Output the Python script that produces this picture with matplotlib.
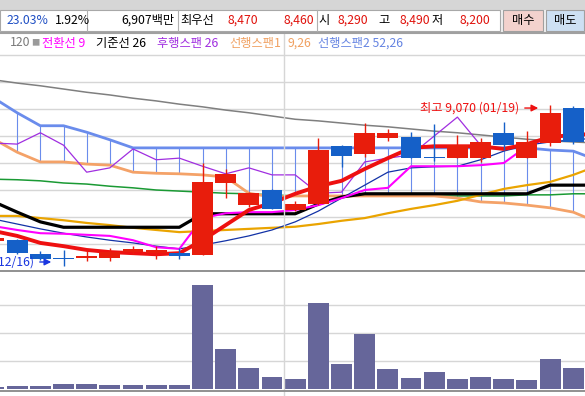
import matplotlib
matplotlib.use('Agg')
import matplotlib.pyplot as plt
from matplotlib.patches import Rectangle
from matplotlib.lines import Line2D

plt.rcParams['font.family'] = ['Noto Sans CJK KR', 'DejaVu Sans']

# ---------------- data ----------------
idx = list(range(26))            # visible candles (index 0 is partly cut off)
line_idx = list(range(27))       # indicator lines extend one step past the right edge
lag_idx = list(range(22))

opens  = [6560, 6570, 6310, 6230, 6240, 6240, 6350, 6330, 6330, 6300, 7630, 7220, 7500,
          7130, 7240, 8320, 8170, 8460, 8480, 8100, 8090, 8090, 8560, 8090, 8370, 9020]
highs  = [6640, 6590, 6370, 6390, 6370, 6430, 6460, 6460, 6430, 8000, 7890, 7460, 7510,
          7300, 8460, 8330, 8740, 8630, 8570, 8720, 8520, 8460, 8760, 8590, 9070, 9060]
lows   = [6530, 6320, 6200, 6090, 6180, 6190, 6310, 6220, 6220, 6290, 7350, 7190, 7140,
          7120, 7220, 7920, 8110, 8400, 8090, 8040, 8090, 8020, 8240, 8090, 8310, 8350]
closes = [6610, 6330, 6220, 6220, 6280, 6350, 6410, 6390, 6280, 7650, 7800, 7440, 7150,
          7240, 8240, 8130, 8560, 8560, 8090, 8090, 8330, 8390, 8330, 8390, 8930, 8390]
volume = [8, 11, 11, 18, 18, 14, 14, 14, 14, 371, 143, 75, 43, 36, 307, 89, 196, 71,
          39, 61, 36, 43, 36, 32, 107, 75]

ma_gray  = [9540, 9480, 9430, 9370, 9310, 9260, 9200, 9150, 9090, 9040, 8980, 8930, 8870, 8810,
            8780, 8740, 8700, 8670, 8630, 8590, 8560, 8520, 8480, 8440, 8410, 8390, 8370]
ma_green = [7700, 7690, 7670, 7630, 7610, 7570, 7540, 7500, 7480, 7460, 7440, 7430, 7410, 7390,
            7390, 7390, 7390, 7390, 7390, 7390, 7390, 7390, 7390, 7410, 7410, 7430, 7430]
ma_gold  = [7020, 7020, 6980, 6940, 6890, 6850, 6800, 6760, 6720, 6740, 6760, 6780, 6800, 6820,
            6870, 6930, 6980, 7070, 7150, 7220, 7300, 7410, 7520, 7590, 7650, 7780, 7940]
ma_red   = [6740, 6650, 6520, 6460, 6390, 6350, 6330, 6310, 6330, 6570, 6850, 7130, 7260, 7430,
            7570, 7670, 7890, 8090, 8280, 8310, 8310, 8310, 8260, 8350, 8480, 8520, 8540]
ma_navy  = [6960, 6870, 6780, 6700, 6630, 6570, 6520, 6460, 6410, 6480, 6560, 6650, 6760, 6910,
            7110, 7350, 7590, 7830, 7910, 7930, 7940, 8060, 8220, 8330, 8390, 8430, 8460]
tenkan   = [6830, 6760, 6700, 6690, 6670, 6650, 6570, 6440, 6410, 6980, 7070, 7090, 7090, 7130,
            7220, 7350, 7500, 7540, 7940, 7940, 7940, 7960, 8000, 8310, 8480, 8520, 8520]
kijun    = [7280, 7090, 6910, 6810, 6810, 6810, 6810, 6810, 6810, 7060, 7060, 7060, 7060, 7060,
            7240, 7370, 7430, 7430, 7430, 7430, 7430, 7430, 7430, 7430, 7590, 7590, 7590]
span1    = [8440, 8200, 8020, 8020, 7980, 7960, 7830, 7810, 7800, 7780, 7740, 7440, 7370, 7390,
            7390, 7390, 7390, 7390, 7390, 7390, 7350, 7280, 7260, 7220, 7170, 7090, 6910]
span2    = [9200, 8930, 8690, 8690, 8570, 8430, 8280, 8280, 8280, 8280, 8280, 8280, 8280, 8280,
            8280, 8280, 8280, 8280, 8280, 8280, 8280, 8280, 8280, 8280, 8240, 8220, 8060]
lagging  = [8370, 8350, 8560, 8330, 7830, 7910, 8260, 8060, 8090, 7940, 7800, 7910, 7780, 7780,
            7440, 7460, 8020, 8090, 8150, 8500, 8850, 8330]

price_grid = [6500, 7000, 7500, 8000, 8500, 9000, 9500, 10000]
vol_grid = [100, 200, 300]

header_items = [("23.03%", 7, '#1f4fc4', 'left'), ("1.92%", 55, 'black', 'left'),
                ("6,907백만", 174, 'black', 'right'), ("최우선", 180, 'black', 'left'),
                ("8,470", 228, '#e0120c', 'left'), ("8,460", 283, '#e0120c', 'left'),
                ("시", 318, 'black', 'left'), ("8,290", 338, '#e0120c', 'left'),
                ("고", 378, 'black', 'left'), ("8,490", 400, '#e0120c', 'left'),
                ("저", 432, 'black', 'left'), ("8,200", 460, '#e0120c', 'left')]
legend_items = [("120", 10, '#7a7a7a'), ("■", 31, '#9a9a9a'), ("전환선 9", 42, '#ff00ff'),
                ("기준선 26", 96, 'black'), ("후행스팬 26", 157, '#a02ee0'),
                ("선행스팬1", 229, '#f0a060'), ("9,26", 287, '#f0a060'),
                ("선행스팬2 52,26", 318, '#6584e2')]

# ---------------- layout helpers ----------------
W, H = 585, 396
def fx(x): return x / W
def fy(y): return 1 - y / H

fig = plt.figure(figsize=(5.85, 3.96), dpi=100)
fig.patch.set_facecolor('white')

# header background
fig.patches.append(Rectangle((0, fy(10)), 1, 10 / H, transform=fig.transFigure,
                             facecolor='#d6d6d6', edgecolor='none'))
fig.patches.append(Rectangle((0, fy(33)), 1, 23 / H, transform=fig.transFigure,
                             facecolor='#f0f0f0', edgecolor='none'))
fig.patches.append(Rectangle((fx(0), fy(31)), fx(500), 21 / H, transform=fig.transFigure,
                             facecolor='white', edgecolor='#a8a8a8', lw=0.8))
for xd in [87, 178, 317]:
    fig.lines.append(Line2D([fx(xd), fx(xd)], [fy(10), fy(31)], transform=fig.transFigure,
                            color='#b0b0b0', lw=0.8))
fig.patches.append(Rectangle((fx(503), fy(31)), 40 / W, 21 / H, transform=fig.transFigure,
                             facecolor='#f3d2cd', edgecolor='#a0a0a0', lw=0.8))
fig.patches.append(Rectangle((fx(546), fy(31)), 38 / W, 21 / H, transform=fig.transFigure,
                             facecolor='#cde0f3', edgecolor='#a0a0a0', lw=0.8))
fig.lines.append(Line2D([0, 1], [fy(33), fy(33)], transform=fig.transFigure,
                        color='#a0a0a0', lw=1.5))

for txt, x, col, ha in header_items:
    fig.text(fx(x), fy(20.5), txt, color=col, ha=ha, va='center', fontsize=8.8)
fig.text(fx(523), fy(20.5), "매수", ha='center', va='center', fontsize=8.8, color='black')
fig.text(fx(565), fy(20.5), "매도", ha='center', va='center', fontsize=8.8, color='black')

# ---------------- price panel ----------------
xl = (6 / 23.17, 591 / 23.17)
ax = fig.add_axes([0, fy(271), 1, (271 - 36) / H])
ax.set_xlim(*xl)
ax.set_ylim(6000, 10352)
ax.axis('off')
for g in price_grid:
    ax.axhline(g, color='#d6d6d6', lw=1.0, zorder=0)

# cloud hatching
ax.vlines(line_idx, span1, span2, color='#6a8cec', lw=0.8, zorder=1)

ax.plot(line_idx, ma_gray, color='#7f7f7f', lw=1.1, zorder=2)
ax.plot(line_idx, ma_green, color='#1a9a34', lw=1.1, zorder=2)
ax.plot(line_idx, span1, color='#f4a268', lw=2.0, zorder=2)
ax.plot(line_idx, span2, color='#6a8cec', lw=2.0, zorder=2)
ax.plot(line_idx, ma_gold, color='#eaa400', lw=1.6, zorder=2)
ax.plot(line_idx, ma_navy, color='#1232a6', lw=0.9, zorder=2)
ax.plot(lag_idx, lagging, color='#a02ee0', lw=0.9, zorder=2)
ax.plot(line_idx, kijun, color='black', lw=2.3, zorder=3)
ax.plot(line_idx, tenkan, color='#ff00ff', lw=1.5, zorder=3)
ax.plot(line_idx, ma_red, color='#ee1010', lw=2.8, zorder=3)

# candles
red, blue = '#e81d0c', '#1560c8'
cols = [red if c >= o else blue for o, c in zip(opens, closes)]
bottoms = [min(o, c) for o, c in zip(opens, closes)]
heights = [max(abs(c - o), 30) for o, c in zip(opens, closes)]
ax.vlines(idx, lows, highs, colors=cols, lw=1.0, zorder=4)
ax.bar(idx, heights, bottom=bottoms, width=0.9, color=cols, zorder=5, linewidth=0)

# annotations
ax.text((519 + 6) / 23.17, 9018, "최고 9,070 (01/19)", color='#ee1010', fontsize=8.8,
        ha='right', va='center', zorder=6)
ax.annotate("", xy=((541 + 6) / 23.17, 9018), xytext=((522 + 6) / 23.17, 9018),
            arrowprops=dict(arrowstyle='-|>', color='#ee1010', lw=1.0, mutation_scale=10),
            zorder=6)
ax.text((34 + 6) / 23.17, 6167, "최저 6,090 (12/16)", color='#1a36e0', fontsize=8.8,
        ha='right', va='center', zorder=6)
ax.annotate("", xy=((54 + 6) / 23.17, 6167), xytext=((37 + 6) / 23.17, 6167),
            arrowprops=dict(arrowstyle='-|>', color='#1a36e0', lw=1.0, mutation_scale=10),
            zorder=6)

# ---------------- volume panel ----------------
vax = fig.add_axes([0, fy(391), 1, 120 / H])
vax.set_xlim(*xl)
vax.set_ylim(-7, 421)
vax.axis('off')
for g in vol_grid:
    vax.axhline(g, color='#d6d6d6', lw=1.0, zorder=0)
vax.bar(idx, volume, width=0.9, color='#66669a', zorder=2, linewidth=0)

# separators and vertical grid line
fig.lines.append(Line2D([0, 1], [fy(271), fy(271)], transform=fig.transFigure,
                        color='#909090', lw=1.4))
fig.lines.append(Line2D([0, 1], [fy(391), fy(391)], transform=fig.transFigure,
                        color='#909090', lw=1.4))
fig.lines.append(Line2D([fx(284), fx(284)], [fy(34), 0], transform=fig.transFigure,
                        color='#d6d6d6', lw=1.0, zorder=0.5))

# legend row
for txt, x, col in legend_items:
    fig.text(fx(x), fy(43), txt, color=col, ha='left', va='center',
             fontsize=6 if txt == "■" else 8.8)

fig.savefig('out.png', dpi=100)
